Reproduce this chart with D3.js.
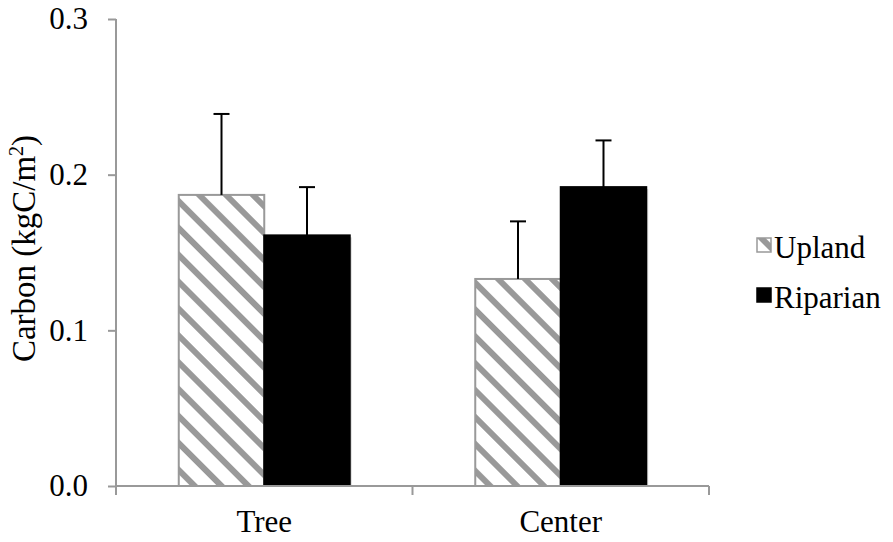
<!DOCTYPE html>
<html>
<head>
<meta charset="utf-8">
<script src="https://cdn.jsdelivr.net/npm/d3@7"></script>
<style>
  body { margin: 0; background: #fff; }
</style>
</head>
<body>
<div id="chart"></div>
<script>
var categories = ["Tree", "Center"];
var seriesNames = ["Upland", "Riparian"];
var upland = [0.187, 0.133];
var uplandErr = [0.052, 0.037];
var riparian = [0.161, 0.192];
var riparianErr = [0.031, 0.030];
var yTicks = [0, 0.1, 0.2, 0.3];

var width = 893, height = 542;
var plotLeft = 116, plotRight = 709, plotTop = 19, plotBottom = 486;
var fontSize = 31;
var serif = "'Liberation Serif', 'Times New Roman', Tinos, 'DejaVu Serif', serif";

var svg = d3.select("#chart").append("svg")
  .attr("width", width)
  .attr("height", height)
  .style("font-family", serif);

var defs = svg.append("defs");
var hatch = defs.append("pattern")
  .attr("id", "hatch")
  .attr("patternUnits", "userSpaceOnUse")
  .attr("width", 19)
  .attr("height", 19)
  .attr("patternTransform", "rotate(-45)");
hatch.append("rect").attr("width", 19).attr("height", 19).attr("fill", "#fff");
hatch.append("rect").attr("x", 0).attr("width", 6).attr("height", 19).attr("fill", "#999");

var x0 = d3.scaleBand().domain(categories).range([plotLeft, plotRight])
  .paddingInner(0.4233).paddingOuter(0.21165);
var x1 = d3.scaleBand().domain(seriesNames).range([0, x0.bandwidth()]);
var y = d3.scaleLinear().domain([0, 0.3]).range([plotBottom, plotTop]);

var rows = categories.map(function (c, i) {
  return [
    { cat: c, s: "Upland", v: upland[i], e: uplandErr[i] },
    { cat: c, s: "Riparian", v: riparian[i], e: riparianErr[i] }
  ];
});
var flat = [].concat.apply([], rows);

function cx(d) { return x0(d.cat) + x1(d.s) + x1.bandwidth() / 2; }

// faint shadow to the right of the solid bars
svg.selectAll("rect.shadow").data(flat.filter(function (d) { return d.s === "Riparian"; }))
  .enter().append("rect")
  .attr("class", "shadow")
  .attr("x", function (d) { return x0(d.cat) + x1(d.s) + 2; })
  .attr("y", function (d) { return y(d.v) + 2; })
  .attr("width", x1.bandwidth())
  .attr("height", function (d) { return y(0) - y(d.v) - 2; })
  .attr("fill", "#d8d8d8");

// bars
svg.selectAll("rect.bar").data(flat).enter().append("rect")
  .attr("class", "bar")
  .attr("x", function (d) { return x0(d.cat) + x1(d.s); })
  .attr("y", function (d) { return y(d.v); })
  .attr("width", x1.bandwidth())
  .attr("height", function (d) { return y(0) - y(d.v); })
  .attr("fill", function (d) { return d.s === "Upland" ? "url(#hatch)" : "#000"; })
  .attr("stroke", function (d) { return d.s === "Upland" ? "#999" : "#000"; })
  .attr("stroke-width", 2);

// error bars
var eb = svg.selectAll("g.err").data(flat).enter().append("g").attr("class", "err");
eb.append("line")
  .attr("x1", cx).attr("x2", cx)
  .attr("y1", function (d) { return y(d.v); })
  .attr("y2", function (d) { return y(d.v + d.e); })
  .attr("stroke", "#000").attr("stroke-width", 2);
eb.append("line")
  .attr("x1", function (d) { return cx(d) - 8; })
  .attr("x2", function (d) { return cx(d) + 8; })
  .attr("y1", function (d) { return y(d.v + d.e); })
  .attr("y2", function (d) { return y(d.v + d.e); })
  .attr("stroke", "#000").attr("stroke-width", 2);

// y axis
var yAxis = svg.append("g")
  .attr("transform", "translate(" + plotLeft + ",0)")
  .call(d3.axisLeft(y).tickValues(yTicks).tickFormat(d3.format(".1f")).tickSize(8).tickPadding(20));
yAxis.attr("font-family", null).attr("font-size", null);
yAxis.selectAll("path, line").attr("stroke", "#999").attr("stroke-width", 2);
yAxis.select("path").attr("d", "M0," + plotTop + "V" + plotBottom);
yAxis.selectAll("text")
  .style("font-size", fontSize + "px")
  .style("font-family", serif)
  .attr("fill", "#000");

// x axis
var xAxis = svg.append("g").attr("transform", "translate(0," + plotBottom + ")");
xAxis.append("line").attr("x1", plotLeft).attr("x2", plotRight)
  .attr("stroke", "#999").attr("stroke-width", 2);
var bounds = [plotLeft].concat(categories.map(function (c) { return x0(c) + x0.step() - x0.paddingInner() * x0.step() / 2; }));
xAxis.selectAll("line.tk").data(bounds).enter().append("line")
  .attr("class", "tk")
  .attr("x1", function (d) { return d; }).attr("x2", function (d) { return d; })
  .attr("y1", 0).attr("y2", 9)
  .attr("stroke", "#999").attr("stroke-width", 2);
xAxis.selectAll("text").data(categories).enter().append("text")
  .attr("x", function (c) { return x0(c) + x0.bandwidth() / 2; })
  .attr("y", 46)
  .attr("text-anchor", "middle")
  .style("font-size", fontSize + "px")
  .style("font-family", serif)
  .text(function (c) { return c; });

// y title
var yt = svg.append("text")
  .attr("transform", "translate(35," + ((plotTop + plotBottom) / 2 - 4) + ") rotate(-90)")
  .attr("text-anchor", "middle")
  .style("font-size", "33px")
  .style("font-family", serif);
yt.append("tspan").text("Carbon (kgC/m");
yt.append("tspan").attr("dy", -12).style("font-size", "20px").text("2");
yt.append("tspan").attr("dy", 12).text(")");

// legend
var legend = svg.selectAll("g.leg").data(seriesNames).enter().append("g")
  .attr("class", "leg")
  .attr("transform", function (d, i) { return "translate(757," + (238 + i * 50) + ")"; });
legend.append("rect")
  .attr("width", 14).attr("height", 14)
  .attr("fill", function (d) { return d === "Upland" ? "url(#hatch)" : "#000"; })
  .attr("stroke", function (d) { return d === "Upland" ? "#999" : "#000"; })
  .attr("stroke-width", 1.5);
legend.append("text")
  .attr("x", 17).attr("y", 20)
  .style("font-size", fontSize + "px")
  .style("font-family", serif)
  .text(function (d) { return d; });
</script>
</body>
</html>
